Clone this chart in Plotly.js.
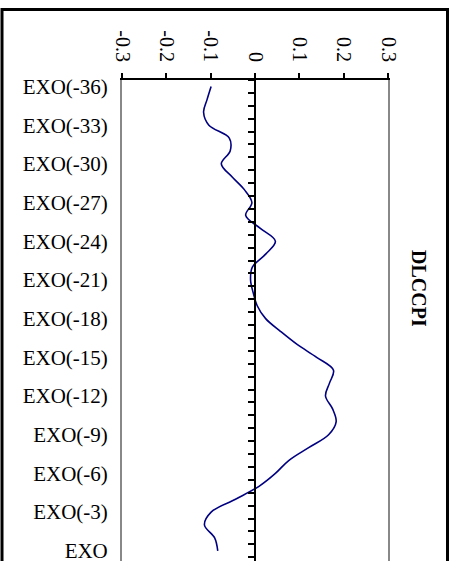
<!DOCTYPE html>
<html>
<head>
<meta charset="utf-8">
<script src="https://cdn.plot.ly/plotly-3.0.1.min.js"></script>
<style>html,body{margin:0;padding:0;background:#fff;}#chart{width:455px;height:561px;}</style>
</head>
<body>
<div id="chart"></div>
<script>
var categories = ["EXO(-36)","EXO(-35)","EXO(-34)","EXO(-33)","EXO(-32)","EXO(-31)","EXO(-30)","EXO(-29)","EXO(-28)","EXO(-27)","EXO(-26)","EXO(-25)","EXO(-24)","EXO(-23)","EXO(-22)","EXO(-21)","EXO(-20)","EXO(-19)","EXO(-18)","EXO(-17)","EXO(-16)","EXO(-15)","EXO(-14)","EXO(-13)","EXO(-12)","EXO(-11)","EXO(-10)","EXO(-9)","EXO(-8)","EXO(-7)","EXO(-6)","EXO(-5)","EXO(-4)","EXO(-3)","EXO(-2)","EXO(-1)","EXO"];
var dlccpi = [-0.099,-0.108,-0.116,-0.104,-0.058,-0.056,-0.076,-0.052,-0.024,-0.007,-0.021,0.012,0.046,0.024,-0.006,-0.010,-0.004,0.005,0.024,0.058,0.095,0.139,0.177,0.168,0.159,0.175,0.183,0.166,0.121,0.076,0.046,0.009,-0.044,-0.099,-0.114,-0.091,-0.084];
var yTickLabels = ["EXO(-36)","EXO(-33)","EXO(-30)","EXO(-27)","EXO(-24)","EXO(-21)","EXO(-18)","EXO(-15)","EXO(-12)","EXO(-9)","EXO(-6)","EXO(-3)","EXO"];
var xTickVals = [-0.3,-0.2,-0.1,0,0.1,0.2,0.3];
var xTickText = ["-0.3","-0.2","-0.1","0","0.1","0.2","0.3"];
var seriesName = "DLCCPI";

var boundaries = [];
for (var i = 0; i <= categories.length; i++) boundaries.push(i - 0.5);

var serif = "Liberation Serif, Times New Roman, serif";
var xFont = {family: serif, size: 20, color: "#000"};
var yFont = {family: serif, size: 21, color: "#000"};
var yRange = [36.79, -0.5];

var traces = [{
  type: "scatter", mode: "lines",
  x: dlccpi, y: categories,
  line: {color: "#000080", width: 1.6, shape: "spline", smoothing: 1},
  hoverinfo: "x+y", showlegend: false
}];

var layout = {
  width: 455, height: 561,
  margin: {l: 122, r: 67, t: 80, b: 0, pad: 0},
  paper_bgcolor: "#fff", plot_bgcolor: "#fff",
  font: xFont,
  showlegend: false,
  xaxis: {
    side: "top", range: [-0.3, 0.3], tickmode: "array",
    tickvals: xTickVals, ticktext: xTickText, tickangle: 90,
    ticks: "outside", ticklen: 5, tickwidth: 2, tickcolor: "#000",
    ticklabelstandoff: 4,
    showline: true, linecolor: "#000", linewidth: 2,
    showgrid: false, zeroline: false, tickfont: xFont
  },
  yaxis: {
    type: "category", categoryorder: "array", categoryarray: categories,
    range: yRange, tickmode: "array", tickvals: yTickLabels, ticktext: yTickLabels,
    ticks: "", showline: true, mirror: true, linecolor: "#888", linewidth: 2,
    showgrid: false, zeroline: false, tickfont: yFont, ticklabelstandoff: 8
  },
  yaxis2: {
    overlaying: "y", anchor: "free", position: 0.5, side: "left",
    type: "linear", range: yRange, tickmode: "array", tickvals: boundaries,
    ticks: "outside", ticklen: 6, tickwidth: 2, tickcolor: "#000",
    showticklabels: false, showline: true, linecolor: "#000", linewidth: 2,
    showgrid: false, zeroline: false
  },
  annotations: [{
    xref: "paper", yref: "paper", x: 1.1165, y: 0.5655,
    xanchor: "center", yanchor: "middle",
    text: "<b>" + seriesName + "</b>", textangle: 90, showarrow: false,
    font: {family: serif, size: 20, color: "#000"}
  }],
  shapes: [{
    type: "rect", xref: "paper", yref: "paper",
    x0: -0.4511, x1: 1.2237, y0: -0.1, y1: 1.1466,
    line: {color: "#000", width: 3}, fillcolor: "rgba(0,0,0,0)", layer: "above"
  }]
};

traces.push({type: "scatter", x: [], y: [], yaxis: "y2", showlegend: false, hoverinfo: "skip"});

Plotly.newPlot("chart", traces, layout, {staticPlot: true, displayModeBar: false});
</script>
</body>
</html>
